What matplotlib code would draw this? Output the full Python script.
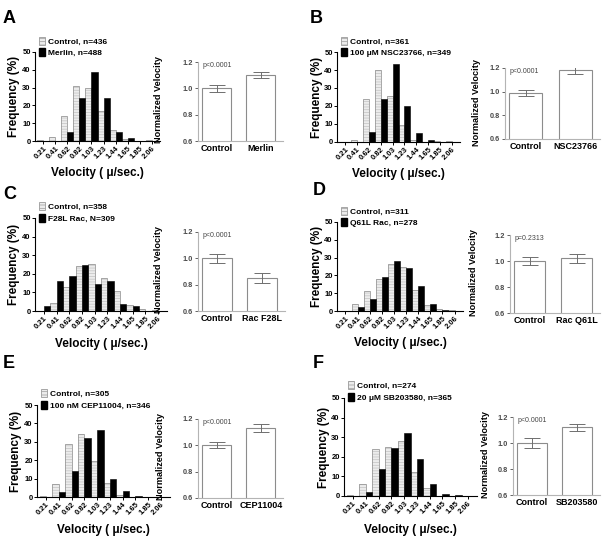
import matplotlib
matplotlib.use('Agg')
import matplotlib.pyplot as plt
from matplotlib.patches import Patch
import numpy as np

plt.rcParams['font.family'] = ['Liberation Sans', 'DejaVu Sans']
plt.rcParams['hatch.linewidth'] = 0.5

# velocity bins (um/sec) shared by all histograms
bins = ['0.21', '0.41', '0.62', '0.82', '1.03', '1.23', '1.44', '1.65', '1.85', '2.06']

panels = ['A', 'B', 'C', 'D', 'E', 'F']
ctrl_labels = ['Control, n=436', 'Control, n=361', 'Control, n=358',
               'Control, n=311', 'Control, n=305', 'Control, n=274']
treat_labels = ['Merlin, n=488', '100 \u03bcM NSC23766, n=349', 'F28L Rac, N=309',
                'Q61L Rac, n=278', '100 nM CEP11004, n=346', '20 \u03bcM SB203580, n=365']

# frequency (%) per bin
ctrl_freq = [
    [0.4, 2, 14, 31, 30, 17, 6, 1, 0, 0.3],
    [0, 1, 24, 40, 25.5, 9.5, 1, 0, 0.3, 0.3],
    [0, 4.5, 13, 24, 25.5, 18, 11, 3, 1, 0.3],
    [0, 4, 11, 18, 26.5, 24.5, 12, 3.5, 1, 0.3],
    [0.3, 7, 29, 34.5, 19.5, 7.5, 1, 0, 0, 0],
    [0.3, 6, 24, 25, 28, 12, 4, 0, 0, 0],
]
treat_freq = [
    [0, 0, 5, 24, 39, 24, 5, 1.5, 0, 0],
    [0, 0, 5.5, 24, 43.5, 20, 5, 1, 0, 0],
    [2.5, 16, 19, 25, 14.5, 16, 3.5, 2.5, 0, 0],
    [0, 2.5, 7, 19, 28, 24, 14, 4, 0.5, 0.2],
    [0, 2.5, 14, 32, 36.5, 10, 3, 0.5, 0.2, 0.2],
    [0, 2, 14, 24.5, 32, 19, 6, 1, 0.3, 0],
]

# normalized velocity bar charts
bar_names = [['Control', 'Merlin'], ['Control', 'NSC23766'], ['Control', 'Rac F28L'],
             ['Control', 'Rac Q61L'], ['Control', 'CEP11004'], ['Control', 'SB203580']]
bar_means = [[1.0, 1.10], [0.99, 1.18], [1.0, 0.85], [1.0, 1.02], [1.0, 1.13], [1.0, 1.12]]
bar_errs = [[0.025, 0.022], [0.025, 0.028], [0.035, 0.035], [0.03, 0.035], [0.022, 0.03], [0.035, 0.03]]
p_texts = ['p<0.0001', 'p<0.0001', 'p<0.0001', 'p=0.2313', 'p<0.0001', 'p<0.0001']

W, H = 605, 536
fig = plt.figure(figsize=(W / 100, H / 100), dpi=100)


def px_axes(l, t, r, b):
    return fig.add_axes([l / W, 1 - b / H, (r - l) / W, (b - t) / H])


# pixel boxes (left, top, right, bottom)
hist_boxes = [(35, 52, 160, 141), (337, 52, 460, 142), (35, 218, 167, 311),
              (337, 222, 463, 311), (37, 405, 170, 497), (344, 398, 477, 496)]
bar_boxes = [(198, 62, 283, 141), (505, 68, 600, 139), (198, 232, 285, 311),
             (510, 235, 600, 313), (198, 419, 283, 498), (513, 417, 600, 495)]
norm_label_x = [163, 481, 163, 478, 165, 490]
letter_pos = [(3, 10), (310, 10), (3, 186), (313, 182), (3, 355), (313, 355)]

gray_face = '#ececec'
gray_hatch = '#c2c2c2'
gray_edge = '#9a9a9a'

x = np.arange(len(bins))
for i in range(6):
    # ---- histogram ----
    hl, ht, hr, hb = hist_boxes[i]
    ax = px_axes(hl, ht, hr, hb)
    ax.bar(x - 0.25, ctrl_freq[i], width=0.5, color=gray_face, edgecolor=gray_hatch,
           hatch='------', linewidth=0)
    ax.bar(x - 0.25, ctrl_freq[i], width=0.5, fill=False, edgecolor=gray_edge, linewidth=0.6)
    ax.bar(x + 0.25, treat_freq[i], width=0.5, color='black', edgecolor='black', linewidth=0.4)
    ax.set_xlim(-0.7, 9.7)
    ax.set_ylim(0, 50)
    ax.set_yticks([0, 10, 20, 30, 40, 50])
    ax.set_xticks(x)
    ax.set_xticklabels(bins, rotation=45, ha='right', rotation_mode='anchor')
    ax.tick_params(labelsize=5.5, length=2, width=0.7, pad=1)
    for lab in ax.get_xticklabels() + ax.get_yticklabels():
        lab.set_fontweight('bold')
    for s in ['top', 'right']:
        ax.spines[s].set_visible(False)
    for s in ['left', 'bottom']:
        ax.spines[s].set_linewidth(0.8)
    ax.set_ylabel('Frequency (%)', fontsize=8.5, fontweight='bold')
    ax.yaxis.set_label_coords(-14.5 / (hr - hl), 0.5)
    ax.set_xlabel('Velocity ( \u03bc/sec.)', fontsize=8.5, fontweight='bold')
    ax.xaxis.set_label_coords(0.5, -0.29)
    handles = [Patch(facecolor=gray_face, edgecolor=gray_edge, hatch='-----', linewidth=0.6),
               Patch(facecolor='black', edgecolor='black')]
    ax.legend(handles, [ctrl_labels[i], treat_labels[i]], loc='upper left',
              bbox_to_anchor=(0.03, 1.17), frameon=False,
              prop=dict(weight='bold', size=6), handlelength=0.7, handleheight=1.1,
              handletextpad=0.4, labelspacing=0.3, borderaxespad=0, borderpad=0)

    # ---- normalized velocity bars ----
    bl, bt, br, bb = bar_boxes[i]
    bx = px_axes(bl, bt, br, bb)
    bx.bar([0, 1], bar_means[i], width=0.66, color='white', edgecolor='#8c8c8c', linewidth=0.8)
    bx.errorbar([0, 1], bar_means[i], yerr=bar_errs[i], fmt='none', ecolor='#6e6e6e',
                elinewidth=0.7, capsize=6, capthick=0.7)
    bx.set_xlim(-0.42, 1.5)
    bx.set_ylim(0.6, 1.2)
    bx.set_yticks([0.6, 0.8, 1.0, 1.2])
    bx.set_yticklabels(['0.6', '0.8', '1.0', '1.2'])
    bx.set_xticks([0, 1])
    bx.set_xticklabels(bar_names[i])
    bx.tick_params(axis='y', labelsize=5.3, length=2, width=0.6, colors='#4a4a4a', pad=1.5)
    bx.tick_params(axis='x', labelsize=6.5, length=0, pad=2)
    for lab in bx.get_xticklabels() + bx.get_yticklabels():
        lab.set_fontweight('bold')
    for s in ['top', 'right']:
        bx.spines[s].set_visible(False)
    for s in ['left', 'bottom']:
        bx.spines[s].set_color('#b4b4b4')
        bx.spines[s].set_linewidth(0.8)
    bx.set_ylabel('Normalized Velocity', fontsize=6.6, fontweight='bold')
    bx.yaxis.set_label_coords((norm_label_x[i] - bl) / (br - bl), 0.52)
    bx.text(0.05, 0.95, p_texts[i], transform=bx.transAxes, fontsize=5, color='#444444',
            ha='left', va='center')

    lx, ly = letter_pos[i]
    fig.text(lx / W, 1 - ly / H, panels[i], fontsize=13, fontweight='bold', ha='left', va='top')

fig.savefig('out.png', dpi=100)
